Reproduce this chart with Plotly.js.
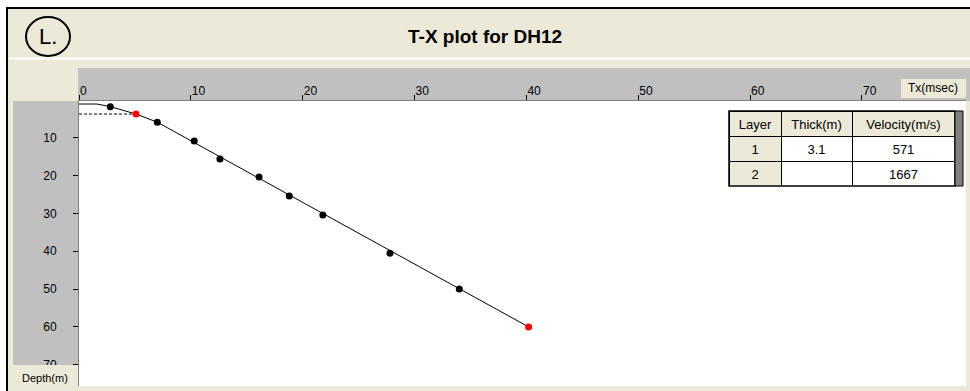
<!DOCTYPE html>
<html>
<head>
<meta charset="utf-8">
<script src="https://cdn.plot.ly/plotly-3.0.1.min.js"></script>
<style>html,body{margin:0;padding:0;background:#fff;}#chart{width:970px;height:391px;}</style>
</head>
<body>
<div id="chart"></div>
<script>
// ---- data ----
const chartTitle = "T-X plot for DH12";
const xTickVals = [0, 10, 20, 30, 40, 50, 60, 70];
const yTickVals = [10, 20, 30, 40, 50, 60, 70];

// measured first-arrival points (time ms, depth m)
const blackT     = [2.8, 7.0, 10.3, 12.6, 16.1, 18.8, 21.8, 27.8, 34.0];
const blackDepth = [1.8, 5.9, 10.9, 15.6, 20.4, 25.4, 30.4, 40.5, 50.0];
const redT       = [5.1, 40.2];
const redDepth   = [3.75, 60.0];

// fitted model line
const modelT     = [0, 1.6, 2.8, 5.1, 7.0, 40.2];
const modelDepth = [1.1, 1.1, 1.8, 3.75, 5.9, 60.0];

// layer boundary (dashed)
const boundaryT     = [0, 5.1];
const boundaryDepth = [3.75, 3.75];

// result table
const tableHeader = ["Layer", "Thick(m)", "Velocity(m/s)"];
const tableLayer  = ["1", "2"];
const tableThick  = ["3.1", ""];
const tableVel    = ["571", "1667"];

// ---- helpers ----
const W = 970, H = 391;
const px = x => x / W;
const py = y => 1 - y / H;
const BEIGE = "#ECE9D8", GRAY = "#C0C0C0";
const FONT = "Liberation Sans, Arial, sans-serif";

const traces = [
  {x: boundaryT, y: boundaryDepth, mode: "lines", type: "scatter",
   line: {color: "#000", width: 1, dash: "3px,2px"}, hoverinfo: "skip"},
  {x: modelT, y: modelDepth, mode: "lines", type: "scatter",
   line: {color: "#000", width: 1}, hoverinfo: "skip"},
  {x: blackT, y: blackDepth, mode: "markers", type: "scatter",
   marker: {color: "#000", size: 7}},
  {x: redT, y: redDepth, mode: "markers", type: "scatter",
   marker: {color: "#FF0000", size: 7}},
  {type: "table",
   domain: {x: [px(729), px(955)], y: [py(186), py(111)]},
   columnwidth: [52, 71, 103],
   header: {values: tableHeader, height: 25, align: "center",
            fill: {color: BEIGE}, line: {color: "#000", width: 1},
            font: {family: FONT, size: 13, color: "#000"}},
   cells: {values: [tableLayer, tableThick, tableVel], height: 25, align: "center",
           fill: {color: [[BEIGE, BEIGE], ["#fff", "#fff"], ["#fff", "#fff"]]},
           line: {color: "#000", width: 1},
           font: {family: FONT, size: 13, color: "#000"}}}
];

const shapes = [
  // white outside the frame
  {type: "rect", xref: "paper", yref: "paper", x0: 0, x1: 1, y0: py(7), y1: 1, fillcolor: "#fff", line: {width: 0}, layer: "below"},
  {type: "rect", xref: "paper", yref: "paper", x0: 0, x1: px(6), y0: 0, y1: 1, fillcolor: "#fff", line: {width: 0}, layer: "below"},
  // frame lines
  {type: "line", xref: "paper", yref: "paper", x0: px(6), x1: 1, y0: py(8), y1: py(8), line: {color: "#000", width: 2}, layer: "below"},
  {type: "line", xref: "paper", yref: "paper", x0: px(7), x1: px(7), y0: py(8), y1: 0, line: {color: "#000", width: 2}, layer: "below"},
  // separator under title
  {type: "line", xref: "paper", yref: "paper", x0: px(9), x1: 1, y0: py(58.5), y1: py(58.5), line: {color: "#fff", width: 2}, layer: "below"},
  // gray axis bands
  {type: "rect", xref: "paper", yref: "paper", x0: px(78), x1: 1, y0: py(101), y1: py(68), fillcolor: GRAY, line: {width: 0}, layer: "below"},
  {type: "rect", xref: "paper", yref: "paper", x0: px(13), x1: px(78), y0: py(365), y1: py(101), fillcolor: GRAY, line: {width: 0}, layer: "below"},
  // depth label box (covers the 70 label partly)
  {type: "rect", xref: "paper", yref: "paper", x0: px(13), x1: px(78), y0: py(386), y1: py(365), fillcolor: BEIGE, line: {width: 0}, layer: "above"},
  // Tx label box
  {type: "rect", xref: "paper", yref: "paper", x0: px(901), x1: px(966), y0: py(98), y1: py(79), fillcolor: BEIGE, line: {width: 0}, layer: "above"},
  // logo circle
  {type: "circle", xref: "paper", yref: "paper", x0: px(26), x1: px(70), y0: py(56), y1: py(17), line: {color: "#000", width: 2}, layer: "above"},
  // table outline and scrollbar strip
  {type: "rect", xref: "paper", yref: "paper", x0: px(729), x1: px(955), y0: py(186), y1: py(111), line: {color: "#000", width: 1.5}, layer: "above"},
  {type: "rect", xref: "paper", yref: "paper", x0: px(955), x1: px(963), y0: py(186), y1: py(111), fillcolor: "#808080", line: {color: "#000", width: 1}, layer: "above"}
];

const ann = (text, x, y, size, extra) => Object.assign({
  text: text, xref: "paper", yref: "paper", x: px(x), y: py(y),
  xanchor: "center", yanchor: "middle", showarrow: false,
  font: {family: FONT, size: size, color: "#000"}
}, extra || {});

const annotations = [
  ann(chartTitle, 485, 37, 19, {font: {family: FONT, size: 19, color: "#000", weight: "bold"}}),
  ann("L.", 48, 37, 22),
  ann("Tx(msec)", 933, 88, 12),
  ann("Depth(m)", 45, 378, 11)
];

const layout = {
  width: W, height: H,
  margin: {l: 0, r: 0, t: 0, b: 0, pad: 0},
  paper_bgcolor: BEIGE,
  plot_bgcolor: "#fff",
  showlegend: false,
  xaxis: {
    domain: [px(79), px(966)], range: [0, 79.3], side: "top",
    tickvals: xTickVals, ticks: "outside", ticklen: 5, tickcolor: "#000",
    ticklabelposition: "outside right",
    tickfont: {family: FONT, size: 12, color: "#000"},
    showline: true, linecolor: "#808080", linewidth: 1,
    showgrid: false, zeroline: false, fixedrange: true
  },
  yaxis: {
    domain: [py(386), py(101)], range: [75.6, 0.3], autorange: false,
    tickvals: yTickVals, ticks: "outside", ticklen: 5, tickcolor: "#000",
    ticklabelstandoff: 14,
    tickfont: {family: FONT, size: 12, color: "#000"},
    showline: true, linecolor: "#808080", linewidth: 1,
    showgrid: false, zeroline: false, fixedrange: true
  },
  shapes: shapes,
  annotations: annotations
};

Plotly.newPlot("chart", traces, layout, {displayModeBar: false, staticPlot: true});
</script>
</body>
</html>
